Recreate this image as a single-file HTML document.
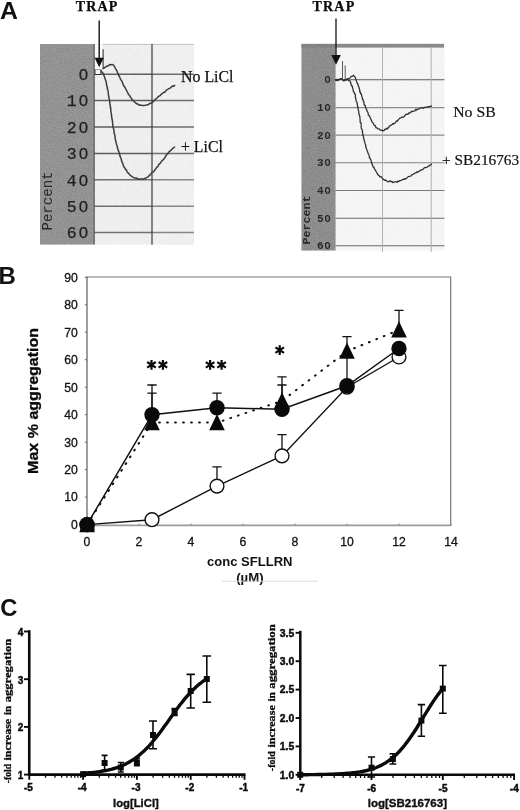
<!DOCTYPE html>
<html><head><meta charset="utf-8"><title>Figure</title>
<style>
html,body{margin:0;padding:0;background:#fff;}
body{width:520px;height:810px;overflow:hidden;font-family:"Liberation Sans",sans-serif;}
svg{display:block;filter:blur(0.4px);}

</style></head><body>
<svg width="520" height="810" viewBox="0 0 520 810">
<defs>
<filter id="nz" x="0" y="0" width="100%" height="100%" color-interpolation-filters="sRGB">
<feTurbulence type="fractalNoise" baseFrequency="0.8" numOctaves="2" seed="7"/>
<feColorMatrix type="matrix" values="0 0 0 0 0  0 0 0 0 0  0 0 0 0 0  0.3 0 0 0 -0.1"/>
<feGaussianBlur stdDeviation="0.4"/>
</filter>
<filter id="nw" x="0" y="0" width="100%" height="100%" color-interpolation-filters="sRGB">
<feTurbulence type="fractalNoise" baseFrequency="0.5" numOctaves="2" seed="11"/>
<feColorMatrix type="matrix" values="0 0 0 0 1  0 0 0 0 1  0 0 0 0 1  1.6 0 0 0 -0.55"/>
<feGaussianBlur stdDeviation="0.8"/>
</filter>
</defs>
<rect width="520" height="810" fill="#fff"/>
<g id="pAl">
<rect x="40" y="44" width="154" height="200.5" fill="#e9e9e9"/>
<rect x="152" y="44" width="42" height="200.5" fill="#ebebeb"/>
<rect x="94" y="44" width="100" height="200.5" fill="#fff" filter="url(#nw)"/>
<rect x="40" y="44" width="54" height="200.5" fill="#9b9b9b"/>
<line x1="94" y1="74.2" x2="152" y2="74.2" stroke="#5e5e5e" stroke-width="1.5"/>
<line x1="152" y1="74.2" x2="194" y2="74.2" stroke="#6e6e6e" stroke-width="1.5"/>
<line x1="94" y1="100.6" x2="152" y2="100.6" stroke="#5e5e5e" stroke-width="1.5"/>
<line x1="152" y1="100.6" x2="194" y2="100.6" stroke="#6e6e6e" stroke-width="1.5"/>
<line x1="94" y1="127.0" x2="152" y2="127.0" stroke="#5e5e5e" stroke-width="1.5"/>
<line x1="152" y1="127.0" x2="194" y2="127.0" stroke="#6e6e6e" stroke-width="1.5"/>
<line x1="94" y1="153.4" x2="152" y2="153.4" stroke="#5e5e5e" stroke-width="1.5"/>
<line x1="152" y1="153.4" x2="194" y2="153.4" stroke="#6e6e6e" stroke-width="1.5"/>
<line x1="94" y1="179.8" x2="152" y2="179.8" stroke="#707070" stroke-width="1.5"/>
<line x1="152" y1="179.8" x2="194" y2="179.8" stroke="#868686" stroke-width="1.5"/>
<line x1="94" y1="206.2" x2="152" y2="206.2" stroke="#707070" stroke-width="1.5"/>
<line x1="152" y1="206.2" x2="194" y2="206.2" stroke="#868686" stroke-width="1.5"/>
<line x1="94" y1="232.6" x2="152" y2="232.6" stroke="#707070" stroke-width="1.5"/>
<line x1="152" y1="232.6" x2="194" y2="232.6" stroke="#868686" stroke-width="1.5"/>
<line x1="103" y1="44.4" x2="194" y2="44.4" stroke="#c4c4c4" stroke-width="1"/>
<line x1="152" y1="44" x2="152" y2="244.8" stroke="#3a3a3a" stroke-width="1.2"/>
<text x="90" y="80.0" text-anchor="end" font-family="Liberation Mono" font-size="16.5" letter-spacing="1.7" fill="#222" stroke="#222" stroke-width="0.25">0</text>
<text x="90" y="106.4" text-anchor="end" font-family="Liberation Mono" font-size="16.5" letter-spacing="1.7" fill="#222" stroke="#222" stroke-width="0.25">10</text>
<text x="90" y="132.8" text-anchor="end" font-family="Liberation Mono" font-size="16.5" letter-spacing="1.7" fill="#222" stroke="#222" stroke-width="0.25">20</text>
<text x="90" y="159.2" text-anchor="end" font-family="Liberation Mono" font-size="16.5" letter-spacing="1.7" fill="#222" stroke="#222" stroke-width="0.25">30</text>
<text x="90" y="185.6" text-anchor="end" font-family="Liberation Mono" font-size="16.5" letter-spacing="1.7" fill="#222" stroke="#222" stroke-width="0.25">40</text>
<text x="90" y="212.0" text-anchor="end" font-family="Liberation Mono" font-size="16.5" letter-spacing="1.7" fill="#222" stroke="#222" stroke-width="0.25">50</text>
<text x="90" y="238.4" text-anchor="end" font-family="Liberation Mono" font-size="16.5" letter-spacing="1.7" fill="#222" stroke="#222" stroke-width="0.25">60</text>
<rect x="82" y="72.3" width="3.1" height="3.4" fill="#9b9b9b"/>
<rect x="82" y="98.7" width="3.1" height="3.4" fill="#9b9b9b"/>
<rect x="82" y="125.1" width="3.1" height="3.4" fill="#9b9b9b"/>
<rect x="82" y="151.5" width="3.1" height="3.4" fill="#9b9b9b"/>
<rect x="82" y="177.9" width="3.1" height="3.4" fill="#9b9b9b"/>
<rect x="82" y="204.3" width="3.1" height="3.4" fill="#9b9b9b"/>
<rect x="82" y="230.7" width="3.1" height="3.4" fill="#9b9b9b"/>
<rect x="40" y="44" width="54" height="200.5" fill="#000" filter="url(#nz)"/>
<text transform="translate(51.5,230.5) rotate(-90)" font-family="Liberation Mono" font-size="14" fill="#2a2a2a" textLength="59" lengthAdjust="spacingAndGlyphs">Percent</text>
<path d="M100.4,69.2 L101.6,68.8 L103.0,68.5 L104.0,68.0 L105.4,67.2 L106.8,66.2 L108.4,65.8 L109.7,64.4 L111.3,64.7 L112.2,64.5 L113.3,64.9 L114.2,66.1 L114.9,67.2 L115.4,68.6 L115.9,69.3 L116.5,70.2 L117.0,71.0 L117.3,72.4 L118.2,73.9 L118.7,75.5 L119.2,76.2 L119.9,77.5 L120.2,78.5 L120.9,79.9 L121.5,80.6 L122.2,81.6 L122.6,83.3 L123.1,84.3 L123.7,85.7 L124.5,86.7 L125.2,87.6 L125.7,88.9 L126.3,90.0 L127.1,91.5 L127.6,92.5 L128.2,93.7 L129.1,95.0 L129.8,95.5 L130.3,96.9 L130.8,97.7 L131.5,98.3 L132.1,99.6 L133.2,100.4 L134.3,101.9 L135.1,102.3 L136.2,103.4 L137.2,104.0 L137.9,104.1 L139.2,105.2 L140.7,105.0 L141.6,105.3 L142.8,105.6 L144.1,105.4 L145.0,105.3 L146.4,105.1 L147.9,104.8 L148.8,104.2 L149.9,103.3 L151.2,103.2 L152.4,102.5 L153.5,101.2 L154.2,100.7 L155.1,99.5 L156.1,98.7 L157.2,97.7 L158.0,96.9 L159.1,96.2 L160.0,95.7 L161.2,94.3 L162.2,93.6 L163.4,92.5 L164.7,92.3 L165.7,91.1 L166.6,89.9 L167.7,89.3 L168.9,88.5 L170.0,88.3 L171.5,86.8 L172.8,86.0 L173.9,86.2 L174.6,85.4" fill="none" stroke="#3c3c3c" stroke-width="1.5" stroke-linecap="round" stroke-linejoin="round"/>
<path d="M95.0,70.4 L95.9,70.7 L97.4,70.3 L99.2,70.0 L100.4,70.7 L101.3,71.4 L102.4,72.5 L103.3,73.5 L103.9,75.2 L104.4,76.8 L104.8,77.7 L105.1,78.7 L105.3,79.6 L106.0,81.4 L106.3,82.7 L106.4,83.7 L106.6,85.1 L106.8,86.2 L107.3,86.6 L107.3,88.1 L107.4,89.2 L108.0,90.2 L108.1,91.5 L108.3,93.4 L108.4,94.0 L108.6,95.8 L108.8,96.8 L109.2,98.8 L109.3,99.5 L109.6,100.4 L109.7,101.7 L109.9,103.5 L109.9,104.5 L110.3,105.4 L110.3,107.4 L110.8,108.0 L110.8,109.9 L110.8,111.0 L110.9,112.1 L111.3,113.6 L111.5,114.4 L111.5,116.3 L111.8,117.2 L111.9,118.8 L112.1,119.2 L112.4,120.8 L112.5,122.1 L112.7,123.5 L112.7,125.0 L112.9,126.4 L113.1,127.7 L113.6,128.7 L113.8,129.7 L114.0,131.0 L114.0,132.7 L114.3,133.4 L114.7,134.6 L114.8,135.6 L115.1,136.8 L115.1,138.6 L115.4,139.8 L116.0,140.8 L115.9,141.6 L116.2,143.0 L116.7,144.7 L116.9,145.2 L117.2,146.4 L117.4,147.8 L117.9,148.6 L118.1,150.2 L118.6,151.1 L119.0,152.0 L119.3,153.8 L119.8,154.9 L119.9,155.9 L120.5,157.3 L121.0,158.5 L121.5,159.9 L121.6,161.1 L122.3,162.6 L122.7,163.4 L123.2,165.1 L123.7,166.2 L124.2,167.5 L125.2,168.4 L125.7,169.6 L126.6,170.4 L127.2,171.8 L127.8,172.9 L128.7,173.3 L129.5,174.4 L130.5,175.5 L131.5,176.2 L132.8,177.1 L133.9,177.7 L135.3,178.0 L136.4,177.9 L137.6,178.9 L138.7,179.0 L139.6,179.0 L141.0,178.9 L141.9,178.9 L143.2,178.9 L144.1,178.7 L145.4,178.2 L146.5,177.7 L147.6,177.1 L148.7,176.3 L149.3,175.2 L150.4,174.7 L151.3,173.3 L152.3,172.3 L153.7,171.9 L154.2,170.9 L155.0,169.8 L155.7,169.0 L156.5,167.7 L157.4,166.7 L158.1,166.3 L158.7,164.6 L159.8,163.6 L160.4,163.2 L161.2,161.8 L161.8,160.8 L162.7,160.2 L163.7,159.2 L164.4,158.3 L165.1,157.3 L165.9,155.7 L166.4,154.9 L167.2,154.2 L167.8,153.6 L168.9,152.0 L169.9,151.1 L171.2,150.2 L172.2,148.9 L173.1,148.1 L173.9,147.6 L174.6,147.0" fill="none" stroke="#3c3c3c" stroke-width="1.5" stroke-linecap="round" stroke-linejoin="round"/>
<rect x="95" y="69.3" width="5.8" height="5.2" fill="#f6f6f6" stroke="#333" stroke-width="1"/>
<rect x="94.8" y="44.5" width="7.8" height="25" fill="#fbfbfb"/>
<line x1="94.2" y1="44" x2="94.2" y2="244.5" stroke="#505050" stroke-width="1.1"/>
<line x1="103.1" y1="49.2" x2="103.1" y2="68.5" stroke="#333" stroke-width="1.1"/>
<line x1="99.2" y1="20.5" x2="99.2" y2="59" stroke="#111" stroke-width="1.4"/>
<path d="M94.6,57.8 L103.8,57.8 L99.2,67.3 Z" fill="#111"/>
<text x="75.7" y="10.8" font-family="Liberation Serif" font-weight="bold" font-size="14" textLength="41.6" lengthAdjust="spacing" fill="#0a0a0a" stroke="#0a0a0a" stroke-width="0.25">TRAP</text>
<text x="181" y="81.7" font-family="Liberation Serif" font-size="16" textLength="52.5" lengthAdjust="spacingAndGlyphs" fill="#111" stroke="#111" stroke-width="0.25">No LiCl</text>
<text x="181" y="152.4" font-family="Liberation Serif" font-size="16" textLength="41.8" lengthAdjust="spacingAndGlyphs" fill="#111" stroke="#111" stroke-width="0.25">+ LiCl</text>
</g>
<g id="pAr">
<rect x="301.5" y="44" width="143" height="206.5" fill="#f1f1f1"/>
<rect x="335.5" y="47" width="109" height="203.5" fill="#fff" filter="url(#nw)"/>
<rect x="301.5" y="44" width="34" height="206.5" fill="#959595"/>
<rect x="301.5" y="43.8" width="142.5" height="3.8" fill="#8a8a8a"/>
<line x1="335.5" y1="79.8" x2="444.5" y2="79.8" stroke="#5a5a5a" stroke-width="1.1"/>
<line x1="335.5" y1="107.6" x2="444.5" y2="107.6" stroke="#8a8a8a" stroke-width="1.1"/>
<line x1="335.5" y1="135.1" x2="444.5" y2="135.1" stroke="#8a8a8a" stroke-width="1.1"/>
<line x1="335.5" y1="162.7" x2="444.5" y2="162.7" stroke="#828282" stroke-width="1.1"/>
<line x1="335.5" y1="190.5" x2="444.5" y2="190.5" stroke="#7a7a7a" stroke-width="1.1"/>
<line x1="335.5" y1="218.3" x2="444.5" y2="218.3" stroke="#6c6c6c" stroke-width="1.1"/>
<line x1="335.5" y1="245.8" x2="444.5" y2="245.8" stroke="#6a6a6a" stroke-width="1.1"/>
<line x1="382.5" y1="47.5" x2="382.5" y2="252" stroke="#b0b0b0" stroke-width="1"/>
<line x1="431.2" y1="47.5" x2="431.2" y2="252" stroke="#b0b0b0" stroke-width="1"/>
<text x="331.4" y="83.3" text-anchor="end" font-family="Liberation Mono" font-weight="bold" font-size="11" letter-spacing="0.6" fill="#2a2a2a">0</text>
<text x="331.4" y="111.1" text-anchor="end" font-family="Liberation Mono" font-weight="bold" font-size="11" letter-spacing="0.6" fill="#2a2a2a">10</text>
<text x="331.4" y="138.6" text-anchor="end" font-family="Liberation Mono" font-weight="bold" font-size="11" letter-spacing="0.6" fill="#2a2a2a">20</text>
<text x="331.4" y="166.2" text-anchor="end" font-family="Liberation Mono" font-weight="bold" font-size="11" letter-spacing="0.6" fill="#2a2a2a">30</text>
<text x="331.4" y="194.0" text-anchor="end" font-family="Liberation Mono" font-weight="bold" font-size="11" letter-spacing="0.6" fill="#2a2a2a">40</text>
<text x="331.4" y="221.8" text-anchor="end" font-family="Liberation Mono" font-weight="bold" font-size="11" letter-spacing="0.6" fill="#2a2a2a">50</text>
<text x="331.4" y="249.3" text-anchor="end" font-family="Liberation Mono" font-weight="bold" font-size="11" letter-spacing="0.6" fill="#2a2a2a">60</text>
<rect x="326.7" y="78.4" width="1.7" height="2" fill="#959595"/>
<rect x="326.7" y="106.2" width="1.7" height="2" fill="#959595"/>
<rect x="326.7" y="133.7" width="1.7" height="2" fill="#959595"/>
<rect x="326.7" y="161.3" width="1.7" height="2" fill="#959595"/>
<rect x="326.7" y="189.1" width="1.7" height="2" fill="#959595"/>
<rect x="326.7" y="216.9" width="1.7" height="2" fill="#959595"/>
<rect x="326.7" y="244.4" width="1.7" height="2" fill="#959595"/>
<rect x="301.5" y="44" width="34" height="206.5" fill="#000" filter="url(#nz)"/>
<text transform="translate(310.4,244.5) rotate(-90)" font-family="Liberation Mono" font-weight="bold" font-size="10.6" fill="#2a2a2a" textLength="49" lengthAdjust="spacingAndGlyphs">Percent</text>
<path d="M334.8,79.6 L335.7,79.8 L337.0,79.3 L337.6,80.5 L338.8,79.3 L340.4,79.2 L341.3,79.0 L342.1,78.8 L343.1,80.5 L344.0,80.7 L345.3,79.6 L346.6,80.2 L347.4,78.9 L348.7,78.8 L349.4,78.4 L350.2,77.6 L351.2,76.4 L352.5,76.2 L353.6,75.1 L353.9,76.0 L355.3,77.4 L355.5,77.9 L355.7,78.8 L356.0,79.9 L356.5,81.4 L357.1,82.8 L357.8,84.4 L357.9,83.9 L358.3,85.9 L358.6,86.2 L358.8,86.6 L359.2,88.1 L359.1,88.3 L359.9,90.8 L359.6,91.6 L360.2,91.7 L360.5,93.7 L361.3,93.7 L361.5,94.8 L361.9,96.3 L362.4,98.4 L362.5,99.4 L362.7,99.0 L363.2,99.9 L363.3,101.4 L364.0,102.0 L363.9,104.1 L364.5,105.3 L365.3,105.4 L365.3,106.6 L365.8,107.7 L366.1,108.8 L366.8,109.6 L366.8,110.9 L367.0,111.2 L367.9,112.4 L368.0,112.6 L368.3,114.3 L368.3,115.2 L369.3,115.5 L369.9,117.2 L370.5,118.1 L371.0,119.8 L371.1,119.8 L372.1,122.1 L372.3,122.3 L373.1,123.0 L373.5,123.8 L374.0,125.0 L374.4,125.4 L375.2,125.5 L376.0,127.8 L376.6,127.8 L377.7,128.3 L378.0,129.0 L379.1,128.9 L379.9,129.8 L381.3,130.3 L382.3,130.1 L382.9,130.9 L384.3,130.4 L384.8,129.4 L386.0,128.8 L386.9,129.4 L387.0,128.1 L388.2,128.1 L389.0,126.9 L389.7,125.9 L390.8,125.4 L391.2,125.1 L392.0,124.5 L393.1,123.5 L393.2,124.1 L394.8,123.5 L395.3,122.7 L396.6,120.9 L397.4,121.2 L398.2,120.0 L398.9,119.1 L399.8,118.1 L400.9,117.8 L401.9,116.9 L402.8,117.3 L403.7,117.0 L404.6,116.0 L404.8,115.7 L405.8,114.4 L407.1,114.2 L407.9,114.3 L408.9,112.8 L409.6,113.1 L410.7,112.5 L411.5,111.2 L412.5,111.7 L413.2,111.2 L414.8,110.9 L415.7,109.3 L416.6,110.2 L417.2,109.0 L418.4,109.1 L419.5,108.8 L420.8,107.8 L421.2,107.8 L422.2,107.5 L423.7,108.4 L423.9,107.7 L424.9,107.2 L426.2,107.4 L427.7,106.7 L428.5,106.5 L429.5,106.7 L430.8,106.3 L431.1,105.9 L432.0,106.3" fill="none" stroke="#2d2d2d" stroke-width="1.25" stroke-linejoin="round"/>
<path d="M335.1,79.9 L336.0,80.3 L337.1,80.6 L337.6,79.9 L339.3,79.9 L340.3,78.6 L341.0,78.6 L342.0,79.4 L342.6,79.5 L343.8,80.9 L345.4,79.6 L346.6,79.2 L347.6,79.0 L348.4,80.3 L349.8,80.8 L350.7,82.4 L350.5,83.3 L351.0,83.7 L351.2,85.1 L351.9,86.1 L352.5,86.2 L352.4,87.2 L352.7,88.2 L353.2,90.2 L353.3,91.5 L353.8,91.8 L354.5,92.8 L354.3,93.6 L354.9,93.8 L355.4,94.6 L355.4,96.6 L355.2,97.4 L355.7,98.0 L355.7,98.2 L356.1,100.6 L356.4,101.5 L357.2,102.9 L357.1,103.4 L357.5,105.4 L357.4,106.2 L358.1,107.2 L357.7,108.2 L357.9,108.2 L358.4,110.0 L358.4,111.0 L358.7,111.1 L358.8,111.9 L358.8,113.0 L359.4,115.3 L359.2,115.0 L360.0,116.8 L359.8,117.5 L360.1,119.5 L360.2,120.0 L360.1,121.9 L360.2,122.4 L361.0,122.9 L361.2,125.2 L361.3,126.1 L361.1,126.6 L361.3,128.3 L361.6,128.7 L362.3,130.3 L362.5,130.6 L362.3,132.0 L362.5,132.2 L362.7,133.2 L362.9,135.6 L363.6,136.1 L363.5,136.8 L363.4,137.7 L364.2,139.6 L364.1,140.5 L364.7,141.3 L364.8,142.3 L364.9,143.2 L365.1,143.7 L365.7,145.0 L365.6,146.3 L366.1,146.6 L365.9,147.5 L366.4,148.6 L366.8,149.7 L367.3,150.7 L367.4,151.4 L368.0,152.6 L368.0,153.6 L368.8,154.4 L369.2,155.8 L369.2,156.2 L369.3,157.6 L370.2,158.1 L370.4,159.5 L370.8,159.7 L371.2,161.3 L371.5,162.0 L371.9,163.6 L372.3,164.4 L372.2,164.5 L372.9,166.2 L373.2,167.1 L373.9,167.0 L374.2,168.1 L374.3,168.7 L374.9,169.5 L375.5,170.4 L376.4,172.0 L377.2,173.3 L377.7,174.7 L378.3,174.9 L379.3,175.7 L379.9,177.0 L380.8,176.5 L381.8,177.3 L382.4,178.2 L383.1,179.7 L383.9,179.4 L385.1,180.5 L385.9,180.2 L387.1,181.2 L388.3,181.9 L389.1,181.1 L390.3,180.8 L390.7,181.8 L392.0,181.4 L392.9,182.7 L393.7,182.2 L394.7,181.9 L396.6,181.8 L397.3,182.4 L397.8,181.2 L399.0,181.3 L399.5,180.7 L400.8,180.6 L401.3,180.2 L402.2,180.0 L403.4,179.1 L404.7,179.4 L405.1,178.5 L406.3,178.6 L407.7,177.1 L408.2,176.6 L409.6,176.3 L410.2,176.1 L411.1,175.8 L412.1,174.6 L413.0,174.3 L413.7,173.9 L414.5,173.6 L415.5,172.8 L416.6,172.7 L417.0,171.6 L418.2,172.1 L419.4,171.1 L419.6,170.9 L420.9,170.1 L422.1,169.6 L423.0,169.5 L424.0,168.1 L425.5,167.3 L426.1,167.7 L427.0,167.2 L428.4,166.0 L429.0,166.1 L430.4,164.7 L430.8,164.9 L431.5,164.2 L432.0,164.2" fill="none" stroke="#2d2d2d" stroke-width="1.25" stroke-linejoin="round"/>
<path d="M342.5,79.5 L342.5,61 M345.2,79.5 L345.2,65.5" stroke="#4a4a4a" stroke-width="0.9" fill="none"/>
<line x1="336" y1="18.5" x2="336" y2="56" stroke="#111" stroke-width="1.3"/>
<path d="M331.3,55 L340.9,55 L336,64.8 Z" fill="#111"/>
<text x="312.6" y="10.9" font-family="Liberation Serif" font-weight="bold" font-size="14" textLength="41.6" lengthAdjust="spacing" fill="#0a0a0a" stroke="#0a0a0a" stroke-width="0.25">TRAP</text>
<text x="453.2" y="117.2" font-family="Liberation Serif" font-size="15.5" textLength="42.5" lengthAdjust="spacingAndGlyphs" fill="#111" stroke="#111" stroke-width="0.2">No SB</text>
<text x="442" y="164.5" font-family="Liberation Serif" font-size="15" textLength="77.2" lengthAdjust="spacingAndGlyphs" fill="#111" stroke="#111" stroke-width="0.2">+ SB216763</text>
</g>
<g id="pB">
<path d="M87,277 L450.7,277 L450.7,525" fill="none" stroke="#777" stroke-width="1.2"/>
<line x1="87" y1="525.3" x2="451.2" y2="525.3" stroke="#9c9c9c" stroke-width="1.7"/>
<line x1="87" y1="276.5" x2="87" y2="525.5" stroke="#5c5c5c" stroke-width="1.2"/>
<line x1="84.8" y1="524.6" x2="87" y2="524.6" stroke="#6a6a6a" stroke-width="1"/>
<text x="77.8" y="528.9" text-anchor="end" font-family="Liberation Sans" font-size="12.2" fill="#111" stroke="#111" stroke-width="0.3">0</text>
<line x1="84.8" y1="497.1" x2="87" y2="497.1" stroke="#6a6a6a" stroke-width="1"/>
<text x="77.8" y="501.4" text-anchor="end" font-family="Liberation Sans" font-size="12.2" fill="#111" stroke="#111" stroke-width="0.3">10</text>
<line x1="84.8" y1="469.6" x2="87" y2="469.6" stroke="#6a6a6a" stroke-width="1"/>
<text x="77.8" y="473.9" text-anchor="end" font-family="Liberation Sans" font-size="12.2" fill="#111" stroke="#111" stroke-width="0.3">20</text>
<line x1="84.8" y1="442.2" x2="87" y2="442.2" stroke="#6a6a6a" stroke-width="1"/>
<text x="77.8" y="446.5" text-anchor="end" font-family="Liberation Sans" font-size="12.2" fill="#111" stroke="#111" stroke-width="0.3">30</text>
<line x1="84.8" y1="414.7" x2="87" y2="414.7" stroke="#6a6a6a" stroke-width="1"/>
<text x="77.8" y="419.0" text-anchor="end" font-family="Liberation Sans" font-size="12.2" fill="#111" stroke="#111" stroke-width="0.3">40</text>
<line x1="84.8" y1="387.2" x2="87" y2="387.2" stroke="#6a6a6a" stroke-width="1"/>
<text x="77.8" y="391.5" text-anchor="end" font-family="Liberation Sans" font-size="12.2" fill="#111" stroke="#111" stroke-width="0.3">50</text>
<line x1="84.8" y1="359.7" x2="87" y2="359.7" stroke="#6a6a6a" stroke-width="1"/>
<text x="77.8" y="364.0" text-anchor="end" font-family="Liberation Sans" font-size="12.2" fill="#111" stroke="#111" stroke-width="0.3">60</text>
<line x1="84.8" y1="332.2" x2="87" y2="332.2" stroke="#6a6a6a" stroke-width="1"/>
<text x="77.8" y="336.5" text-anchor="end" font-family="Liberation Sans" font-size="12.2" fill="#111" stroke="#111" stroke-width="0.3">70</text>
<line x1="84.8" y1="304.8" x2="87" y2="304.8" stroke="#6a6a6a" stroke-width="1"/>
<text x="77.8" y="309.1" text-anchor="end" font-family="Liberation Sans" font-size="12.2" fill="#111" stroke="#111" stroke-width="0.3">80</text>
<line x1="84.8" y1="277.3" x2="87" y2="277.3" stroke="#6a6a6a" stroke-width="1"/>
<text x="77.8" y="281.6" text-anchor="end" font-family="Liberation Sans" font-size="12.2" fill="#111" stroke="#111" stroke-width="0.3">90</text>
<line x1="87.0" y1="523.5" x2="87.0" y2="526" stroke="#8a8a8a" stroke-width="1"/>
<text x="87.0" y="546.3" text-anchor="middle" font-family="Liberation Sans" font-size="12.2" fill="#111" stroke="#111" stroke-width="0.3">0</text>
<line x1="139.0" y1="523.5" x2="139.0" y2="526" stroke="#8a8a8a" stroke-width="1"/>
<text x="139.0" y="546.3" text-anchor="middle" font-family="Liberation Sans" font-size="12.2" fill="#111" stroke="#111" stroke-width="0.3">2</text>
<line x1="191.0" y1="523.5" x2="191.0" y2="526" stroke="#8a8a8a" stroke-width="1"/>
<text x="191.0" y="546.3" text-anchor="middle" font-family="Liberation Sans" font-size="12.2" fill="#111" stroke="#111" stroke-width="0.3">4</text>
<line x1="243.0" y1="523.5" x2="243.0" y2="526" stroke="#8a8a8a" stroke-width="1"/>
<text x="243.0" y="546.3" text-anchor="middle" font-family="Liberation Sans" font-size="12.2" fill="#111" stroke="#111" stroke-width="0.3">6</text>
<line x1="295.0" y1="523.5" x2="295.0" y2="526" stroke="#8a8a8a" stroke-width="1"/>
<text x="295.0" y="546.3" text-anchor="middle" font-family="Liberation Sans" font-size="12.2" fill="#111" stroke="#111" stroke-width="0.3">8</text>
<line x1="347.0" y1="523.5" x2="347.0" y2="526" stroke="#8a8a8a" stroke-width="1"/>
<text x="347.0" y="546.3" text-anchor="middle" font-family="Liberation Sans" font-size="12.2" fill="#111" stroke="#111" stroke-width="0.3">10</text>
<line x1="399.0" y1="523.5" x2="399.0" y2="526" stroke="#8a8a8a" stroke-width="1"/>
<text x="399.0" y="546.3" text-anchor="middle" font-family="Liberation Sans" font-size="12.2" fill="#111" stroke="#111" stroke-width="0.3">12</text>
<line x1="451.0" y1="523.5" x2="451.0" y2="526" stroke="#8a8a8a" stroke-width="1"/>
<text x="451.0" y="546.3" text-anchor="middle" font-family="Liberation Sans" font-size="12.2" fill="#111" stroke="#111" stroke-width="0.3">14</text>
<text transform="translate(37.7,473.9) rotate(-90)" font-family="Liberation Sans" font-weight="bold" font-size="14.4" textLength="146" lengthAdjust="spacingAndGlyphs" fill="#0a0a0a" stroke="#0a0a0a" stroke-width="0.3">Max % aggregation</text>
<text x="207" y="565.5" font-family="Liberation Sans" font-weight="bold" font-size="13" textLength="85.5" lengthAdjust="spacingAndGlyphs" fill="#111">conc SFLLRN</text>
<text x="236.2" y="582.3" font-family="Liberation Sans" font-weight="bold" font-size="13" textLength="27.5" lengthAdjust="spacingAndGlyphs" fill="#111">(µM)</text>
<line x1="222" y1="581.2" x2="318" y2="581.2" stroke="#dcdcdc" stroke-width="1"/>
<path d="M87.0,524.6 L152.0,519.7 L217.0,486.1 L282.0,455.9 L347.0,387.2 L399.0,357.0" fill="none" stroke="#111" stroke-width="1.4"/>
<path d="M87.0,524.6 L152.0,422.6 L217.0,422.6 L282.0,400.9 L347.0,351.2 L399.0,330.0" fill="none" stroke="#111" stroke-width="2" stroke-linecap="round" stroke-dasharray="0.8,7.2"/>
<path d="M87.0,524.6 L152.0,414.7 L217.0,407.8 L282.0,409.2 L347.0,385.8 L399.0,348.5" fill="none" stroke="#111" stroke-width="1.5"/>
<path d="M217.0,486.1 L217.0,466.9 M212.4,466.9 L221.6,466.9" stroke="#111" stroke-width="1.3" fill="none"/>
<path d="M282.0,455.9 L282.0,434.7 M277.4,434.7 L286.6,434.7" stroke="#111" stroke-width="1.3" fill="none"/>
<path d="M152.0,422.6 L152.0,393.2 M147.4,393.2 L156.6,393.2" stroke="#111" stroke-width="1.3" fill="none"/>
<path d="M282.0,400.9 L282.0,376.8 M277.4,376.8 L286.6,376.8" stroke="#111" stroke-width="1.3" fill="none"/>
<path d="M347.0,351.2 L347.0,336.6 M342.4,336.6 L351.6,336.6" stroke="#111" stroke-width="1.3" fill="none"/>
<path d="M399.0,330.0 L399.0,310.3 M394.4,310.3 L403.6,310.3" stroke="#111" stroke-width="1.3" fill="none"/>
<path d="M152.0,414.7 L152.0,385.0 M147.4,385.0 L156.6,385.0" stroke="#111" stroke-width="1.3" fill="none"/>
<path d="M217.0,407.8 L217.0,393.2 M212.4,393.2 L221.6,393.2" stroke="#111" stroke-width="1.3" fill="none"/>
<path d="M282.0,409.2 L282.0,385.0 M277.4,385.0 L286.6,385.0" stroke="#111" stroke-width="1.3" fill="none"/>
<line x1="347.0" y1="351.5" x2="347.0" y2="387.2" stroke="#111" stroke-width="1.3"/>
<circle cx="87.0" cy="524.6" r="6.9" fill="#fff" stroke="#111" stroke-width="1.4"/>
<circle cx="152.0" cy="519.7" r="6.9" fill="#fff" stroke="#111" stroke-width="1.4"/>
<circle cx="217.0" cy="486.1" r="6.9" fill="#fff" stroke="#111" stroke-width="1.4"/>
<circle cx="282.0" cy="455.9" r="6.9" fill="#fff" stroke="#111" stroke-width="1.4"/>
<circle cx="347.0" cy="387.2" r="6.9" fill="#fff" stroke="#111" stroke-width="1.4"/>
<circle cx="399.0" cy="357.0" r="6.9" fill="#fff" stroke="#111" stroke-width="1.4"/>
<path d="M87.0,515.9 L79.2,532.2 L94.8,532.2 Z" fill="#0a0a0a"/>
<path d="M152.0,413.9 L144.2,430.2 L159.8,430.2 Z" fill="#0a0a0a"/>
<path d="M217.0,413.9 L209.2,430.2 L224.8,430.2 Z" fill="#0a0a0a"/>
<path d="M282.0,392.2 L274.2,408.5 L289.8,408.5 Z" fill="#0a0a0a"/>
<path d="M347.0,342.5 L339.2,358.8 L354.8,358.8 Z" fill="#0a0a0a"/>
<path d="M399.0,321.3 L391.2,337.6 L406.8,337.6 Z" fill="#0a0a0a"/>
<circle cx="87.0" cy="524.6" r="7.7" fill="#0a0a0a"/>
<circle cx="152.0" cy="414.7" r="7.7" fill="#0a0a0a"/>
<circle cx="217.0" cy="407.8" r="7.7" fill="#0a0a0a"/>
<circle cx="282.0" cy="409.2" r="7.7" fill="#0a0a0a"/>
<circle cx="347.0" cy="385.8" r="7.7" fill="#0a0a0a"/>
<circle cx="399.0" cy="348.5" r="7.7" fill="#0a0a0a"/>
<rect x="80.3" y="524" width="14.2" height="8" rx="1" fill="#0a0a0a"/>
<path d="M151.5,359.9 V369.7 M147.2,362.0 L155.8,367.6 M147.2,367.6 L155.8,362.0" stroke="#0a0a0a" stroke-width="2.2" fill="none"/>
<path d="M162.9,359.9 V369.7 M158.6,362.0 L167.2,367.6 M158.6,367.6 L167.2,362.0" stroke="#0a0a0a" stroke-width="2.2" fill="none"/>
<path d="M210.1,360.0 V369.8 M205.8,362.1 L214.4,367.7 M205.8,367.7 L214.4,362.1" stroke="#0a0a0a" stroke-width="2.2" fill="none"/>
<path d="M221.6,360.0 V369.8 M217.3,362.1 L225.9,367.7 M217.3,367.7 L225.9,362.1" stroke="#0a0a0a" stroke-width="2.2" fill="none"/>
<path d="M279.7,345.2 V355.0 M275.4,347.3 L284.0,352.9 M275.4,352.9 L284.0,347.3" stroke="#0a0a0a" stroke-width="2.2" fill="none"/>
</g>
<g id="pC">
<line x1="29.25" y1="630.2" x2="29.25" y2="775.9" stroke="#0a0a0a" stroke-width="2.6"/>
<line x1="28.4" y1="774.6" x2="245.5" y2="774.6" stroke="#0a0a0a" stroke-width="2.6"/>
<line x1="24" y1="774.6" x2="29.3" y2="774.6" stroke="#0a0a0a" stroke-width="1.9"/>
<text x="23.3" y="778.9" text-anchor="end" font-family="Liberation Sans" font-weight="bold" font-size="10" fill="#0a0a0a" stroke="#0a0a0a" stroke-width="0.45">1</text>
<line x1="24" y1="726.9" x2="29.3" y2="726.9" stroke="#0a0a0a" stroke-width="1.9"/>
<text x="23.3" y="731.2" text-anchor="end" font-family="Liberation Sans" font-weight="bold" font-size="10" fill="#0a0a0a" stroke="#0a0a0a" stroke-width="0.45">2</text>
<line x1="24" y1="679.2" x2="29.3" y2="679.2" stroke="#0a0a0a" stroke-width="1.9"/>
<text x="23.3" y="683.5" text-anchor="end" font-family="Liberation Sans" font-weight="bold" font-size="10" fill="#0a0a0a" stroke="#0a0a0a" stroke-width="0.45">3</text>
<line x1="24" y1="631.5" x2="29.3" y2="631.5" stroke="#0a0a0a" stroke-width="1.9"/>
<text x="23.3" y="635.8" text-anchor="end" font-family="Liberation Sans" font-weight="bold" font-size="10" fill="#0a0a0a" stroke="#0a0a0a" stroke-width="0.45">4</text>
<line x1="29.3" y1="774.6" x2="29.3" y2="779.8" stroke="#0a0a0a" stroke-width="1.9"/>
<text x="28.4" y="791" text-anchor="middle" font-family="Liberation Sans" font-weight="bold" font-size="10" fill="#0a0a0a" stroke="#0a0a0a" stroke-width="0.45">-5</text>
<line x1="45.5" y1="774.6" x2="45.5" y2="777.8" stroke="#0a0a0a" stroke-width="1.3"/>
<line x1="55.0" y1="774.6" x2="55.0" y2="777.8" stroke="#0a0a0a" stroke-width="1.3"/>
<line x1="61.7" y1="774.6" x2="61.7" y2="777.8" stroke="#0a0a0a" stroke-width="1.3"/>
<line x1="66.9" y1="774.6" x2="66.9" y2="777.8" stroke="#0a0a0a" stroke-width="1.3"/>
<line x1="71.2" y1="774.6" x2="71.2" y2="777.8" stroke="#0a0a0a" stroke-width="1.3"/>
<line x1="74.8" y1="774.6" x2="74.8" y2="777.8" stroke="#0a0a0a" stroke-width="1.3"/>
<line x1="77.9" y1="774.6" x2="77.9" y2="777.8" stroke="#0a0a0a" stroke-width="1.3"/>
<line x1="80.6" y1="774.6" x2="80.6" y2="777.8" stroke="#0a0a0a" stroke-width="1.3"/>
<line x1="83.1" y1="774.6" x2="83.1" y2="779.8" stroke="#0a0a0a" stroke-width="1.9"/>
<text x="82.2" y="791" text-anchor="middle" font-family="Liberation Sans" font-weight="bold" font-size="10" fill="#0a0a0a" stroke="#0a0a0a" stroke-width="0.45">-4</text>
<line x1="99.3" y1="774.6" x2="99.3" y2="777.8" stroke="#0a0a0a" stroke-width="1.3"/>
<line x1="108.8" y1="774.6" x2="108.8" y2="777.8" stroke="#0a0a0a" stroke-width="1.3"/>
<line x1="115.5" y1="774.6" x2="115.5" y2="777.8" stroke="#0a0a0a" stroke-width="1.3"/>
<line x1="120.7" y1="774.6" x2="120.7" y2="777.8" stroke="#0a0a0a" stroke-width="1.3"/>
<line x1="125.0" y1="774.6" x2="125.0" y2="777.8" stroke="#0a0a0a" stroke-width="1.3"/>
<line x1="128.6" y1="774.6" x2="128.6" y2="777.8" stroke="#0a0a0a" stroke-width="1.3"/>
<line x1="131.7" y1="774.6" x2="131.7" y2="777.8" stroke="#0a0a0a" stroke-width="1.3"/>
<line x1="134.4" y1="774.6" x2="134.4" y2="777.8" stroke="#0a0a0a" stroke-width="1.3"/>
<line x1="136.9" y1="774.6" x2="136.9" y2="779.8" stroke="#0a0a0a" stroke-width="1.9"/>
<text x="136.0" y="791" text-anchor="middle" font-family="Liberation Sans" font-weight="bold" font-size="10" fill="#0a0a0a" stroke="#0a0a0a" stroke-width="0.45">-3</text>
<line x1="153.1" y1="774.6" x2="153.1" y2="777.8" stroke="#0a0a0a" stroke-width="1.3"/>
<line x1="162.6" y1="774.6" x2="162.6" y2="777.8" stroke="#0a0a0a" stroke-width="1.3"/>
<line x1="169.3" y1="774.6" x2="169.3" y2="777.8" stroke="#0a0a0a" stroke-width="1.3"/>
<line x1="174.5" y1="774.6" x2="174.5" y2="777.8" stroke="#0a0a0a" stroke-width="1.3"/>
<line x1="178.8" y1="774.6" x2="178.8" y2="777.8" stroke="#0a0a0a" stroke-width="1.3"/>
<line x1="182.4" y1="774.6" x2="182.4" y2="777.8" stroke="#0a0a0a" stroke-width="1.3"/>
<line x1="185.5" y1="774.6" x2="185.5" y2="777.8" stroke="#0a0a0a" stroke-width="1.3"/>
<line x1="188.2" y1="774.6" x2="188.2" y2="777.8" stroke="#0a0a0a" stroke-width="1.3"/>
<line x1="190.7" y1="774.6" x2="190.7" y2="779.8" stroke="#0a0a0a" stroke-width="1.9"/>
<text x="189.8" y="791" text-anchor="middle" font-family="Liberation Sans" font-weight="bold" font-size="10" fill="#0a0a0a" stroke="#0a0a0a" stroke-width="0.45">-2</text>
<line x1="206.9" y1="774.6" x2="206.9" y2="777.8" stroke="#0a0a0a" stroke-width="1.3"/>
<line x1="216.4" y1="774.6" x2="216.4" y2="777.8" stroke="#0a0a0a" stroke-width="1.3"/>
<line x1="223.1" y1="774.6" x2="223.1" y2="777.8" stroke="#0a0a0a" stroke-width="1.3"/>
<line x1="228.3" y1="774.6" x2="228.3" y2="777.8" stroke="#0a0a0a" stroke-width="1.3"/>
<line x1="232.6" y1="774.6" x2="232.6" y2="777.8" stroke="#0a0a0a" stroke-width="1.3"/>
<line x1="236.2" y1="774.6" x2="236.2" y2="777.8" stroke="#0a0a0a" stroke-width="1.3"/>
<line x1="239.3" y1="774.6" x2="239.3" y2="777.8" stroke="#0a0a0a" stroke-width="1.3"/>
<line x1="242.0" y1="774.6" x2="242.0" y2="777.8" stroke="#0a0a0a" stroke-width="1.3"/>
<line x1="244.5" y1="774.6" x2="244.5" y2="779.8" stroke="#0a0a0a" stroke-width="1.9"/>
<text x="243.6" y="791" text-anchor="middle" font-family="Liberation Sans" font-weight="bold" font-size="10" fill="#0a0a0a" stroke="#0a0a0a" stroke-width="0.45">-1</text>
<text x="-1" y="791.3" font-size="1" fill="none"> </text>
<text x="113" y="807" font-family="Liberation Sans" font-weight="bold" stroke="#0a0a0a" stroke-width="0.35" font-size="11.5" textLength="45.8" lengthAdjust="spacingAndGlyphs" fill="#111">log[LiCl]</text>
<text transform="translate(11.2,783.2) rotate(-90)" font-family="Liberation Serif" font-weight="bold" stroke="#0a0a0a" stroke-width="0.3" font-size="11.4" textLength="19.2" lengthAdjust="spacingAndGlyphs" fill="#0a0a0a">-fold</text>
<text transform="translate(11.2,760.6) rotate(-90)" font-family="Liberation Serif" font-weight="bold" stroke="#0a0a0a" stroke-width="0.3" font-size="11.4" textLength="41.8" lengthAdjust="spacingAndGlyphs" fill="#0a0a0a">increase</text>
<text transform="translate(11.2,715.1) rotate(-90)" font-family="Liberation Serif" font-weight="bold" stroke="#0a0a0a" stroke-width="0.3" font-size="11.4" textLength="9.2" lengthAdjust="spacingAndGlyphs" fill="#0a0a0a">in</text>
<text transform="translate(11.2,702.3) rotate(-90)" font-family="Liberation Serif" font-weight="bold" stroke="#0a0a0a" stroke-width="0.3" font-size="11.4" textLength="63.5" lengthAdjust="spacingAndGlyphs" fill="#0a0a0a">aggregation</text>
<path d="M83.1,773.3 L85.2,773.2 L87.2,773.0 L89.3,772.8 L91.3,772.6 L93.4,772.4 L95.5,772.2 L97.5,771.9 L99.6,771.6 L101.7,771.3 L103.7,770.9 L105.8,770.5 L107.8,770.1 L109.9,769.6 L112.0,769.1 L114.0,768.5 L116.1,767.9 L118.2,767.2 L120.2,766.4 L122.3,765.5 L124.3,764.6 L126.4,763.6 L128.5,762.5 L130.5,761.3 L132.6,760.1 L134.7,758.7 L136.7,757.2 L138.8,755.6 L140.8,753.8 L142.9,752.0 L145.0,750.0 L147.0,748.0 L149.1,745.8 L151.2,743.5 L153.2,741.0 L155.3,738.5 L157.3,735.9 L159.4,733.2 L161.5,730.5 L163.5,727.6 L165.6,724.8 L167.7,721.9 L169.7,719.0 L171.8,716.1 L173.8,713.2 L175.9,710.4 L178.0,707.6 L180.0,704.8 L182.1,702.2 L184.2,699.6 L186.2,697.2 L188.3,694.8 L190.3,692.6 L192.4,690.4 L194.5,688.4 L196.5,686.5 L198.6,684.7 L200.7,683.1 L202.7,681.5 L204.8,680.1 L206.8,678.7" fill="none" stroke="#0a0a0a" stroke-width="3.4" stroke-linecap="round" stroke-linejoin="round"/>
<rect x="80.1" y="771.2" width="6" height="6" fill="#0a0a0a"/>
<path d="M104.6,755.4 L104.6,770.0 M101.6,755.4 L107.6,755.4 M101.6,770.0 L107.6,770.0" stroke="#0a0a0a" stroke-width="1.6" fill="none"/>
<rect x="101.6" y="760.0" width="6" height="6" fill="#0a0a0a"/>
<path d="M120.8,762.5 L120.8,772.0 M117.8,762.5 L123.8,762.5 M117.8,772.0 L123.8,772.0" stroke="#0a0a0a" stroke-width="1.6" fill="none"/>
<rect x="117.8" y="764.5" width="6" height="6" fill="#0a0a0a"/>
<path d="M136.9,758.3 L136.9,765.6 M133.9,758.3 L139.9,758.3 M133.9,765.6 L139.9,765.6" stroke="#0a0a0a" stroke-width="1.6" fill="none"/>
<rect x="133.9" y="759.3" width="6" height="6" fill="#0a0a0a"/>
<path d="M153.0,721.0 L153.0,748.8 M149.0,721.0 L157.0,721.0 M149.0,748.8 L157.0,748.8" stroke="#0a0a0a" stroke-width="1.6" fill="none"/>
<rect x="150.0" y="732.0" width="6" height="6" fill="#0a0a0a"/>
<path d="M174.6,708.6 L174.6,715.4 M171.4,708.6 L177.8,708.6 M171.4,715.4 L177.8,715.4" stroke="#0a0a0a" stroke-width="1.6" fill="none"/>
<rect x="171.6" y="709.0" width="6" height="6" fill="#0a0a0a"/>
<path d="M190.7,674.4 L190.7,708.0 M186.5,674.4 L194.9,674.4 M186.5,708.0 L194.9,708.0" stroke="#0a0a0a" stroke-width="1.6" fill="none"/>
<rect x="187.7" y="688.0" width="6" height="6" fill="#0a0a0a"/>
<path d="M206.8,656.0 L206.8,702.3 M202.5,656.0 L211.1,656.0 M202.5,702.3 L211.1,702.3" stroke="#0a0a0a" stroke-width="1.6" fill="none"/>
<rect x="203.8" y="676.0" width="6" height="6" fill="#0a0a0a"/>
<line x1="300.3" y1="630.8" x2="300.3" y2="776.1" stroke="#0a0a0a" stroke-width="2.5"/>
<line x1="299" y1="774.8" x2="515" y2="774.8" stroke="#0a0a0a" stroke-width="2.6"/>
<line x1="295.6" y1="774.8" x2="300.2" y2="774.8" stroke="#0a0a0a" stroke-width="1.9"/>
<text x="294.3" y="778.5" text-anchor="end" font-family="Liberation Sans" font-weight="bold" font-size="10.4" fill="#0a0a0a" stroke="#0a0a0a" stroke-width="0.45">1.0</text>
<line x1="295.6" y1="746.4" x2="300.2" y2="746.4" stroke="#0a0a0a" stroke-width="1.9"/>
<text x="294.3" y="750.1" text-anchor="end" font-family="Liberation Sans" font-weight="bold" font-size="10.4" fill="#0a0a0a" stroke="#0a0a0a" stroke-width="0.45">1.5</text>
<line x1="295.6" y1="718.0" x2="300.2" y2="718.0" stroke="#0a0a0a" stroke-width="1.9"/>
<text x="294.3" y="721.7" text-anchor="end" font-family="Liberation Sans" font-weight="bold" font-size="10.4" fill="#0a0a0a" stroke="#0a0a0a" stroke-width="0.45">2.0</text>
<line x1="295.6" y1="689.6" x2="300.2" y2="689.6" stroke="#0a0a0a" stroke-width="1.9"/>
<text x="294.3" y="693.3" text-anchor="end" font-family="Liberation Sans" font-weight="bold" font-size="10.4" fill="#0a0a0a" stroke="#0a0a0a" stroke-width="0.45">2.5</text>
<line x1="295.6" y1="661.2" x2="300.2" y2="661.2" stroke="#0a0a0a" stroke-width="1.9"/>
<text x="294.3" y="664.9" text-anchor="end" font-family="Liberation Sans" font-weight="bold" font-size="10.4" fill="#0a0a0a" stroke="#0a0a0a" stroke-width="0.45">3.0</text>
<line x1="295.6" y1="632.8" x2="300.2" y2="632.8" stroke="#0a0a0a" stroke-width="1.9"/>
<text x="294.3" y="636.5" text-anchor="end" font-family="Liberation Sans" font-weight="bold" font-size="10.4" fill="#0a0a0a" stroke="#0a0a0a" stroke-width="0.45">3.5</text>
<line x1="300.2" y1="774.8" x2="300.2" y2="780" stroke="#0a0a0a" stroke-width="1.9"/>
<text x="300.4" y="791.5" text-anchor="middle" font-family="Liberation Sans" font-weight="bold" font-size="10" fill="#0a0a0a" stroke="#0a0a0a" stroke-width="0.45">-7</text>
<line x1="321.7" y1="774.8" x2="321.7" y2="778" stroke="#0a0a0a" stroke-width="1.3"/>
<line x1="334.2" y1="774.8" x2="334.2" y2="778" stroke="#0a0a0a" stroke-width="1.3"/>
<line x1="343.1" y1="774.8" x2="343.1" y2="778" stroke="#0a0a0a" stroke-width="1.3"/>
<line x1="350.0" y1="774.8" x2="350.0" y2="778" stroke="#0a0a0a" stroke-width="1.3"/>
<line x1="355.7" y1="774.8" x2="355.7" y2="778" stroke="#0a0a0a" stroke-width="1.3"/>
<line x1="360.5" y1="774.8" x2="360.5" y2="778" stroke="#0a0a0a" stroke-width="1.3"/>
<line x1="364.6" y1="774.8" x2="364.6" y2="778" stroke="#0a0a0a" stroke-width="1.3"/>
<line x1="368.2" y1="774.8" x2="368.2" y2="778" stroke="#0a0a0a" stroke-width="1.3"/>
<line x1="371.5" y1="774.8" x2="371.5" y2="780" stroke="#0a0a0a" stroke-width="1.9"/>
<text x="371.7" y="791.5" text-anchor="middle" font-family="Liberation Sans" font-weight="bold" font-size="10" fill="#0a0a0a" stroke="#0a0a0a" stroke-width="0.45">-6</text>
<line x1="393.0" y1="774.8" x2="393.0" y2="778" stroke="#0a0a0a" stroke-width="1.3"/>
<line x1="405.5" y1="774.8" x2="405.5" y2="778" stroke="#0a0a0a" stroke-width="1.3"/>
<line x1="414.4" y1="774.8" x2="414.4" y2="778" stroke="#0a0a0a" stroke-width="1.3"/>
<line x1="421.3" y1="774.8" x2="421.3" y2="778" stroke="#0a0a0a" stroke-width="1.3"/>
<line x1="427.0" y1="774.8" x2="427.0" y2="778" stroke="#0a0a0a" stroke-width="1.3"/>
<line x1="431.8" y1="774.8" x2="431.8" y2="778" stroke="#0a0a0a" stroke-width="1.3"/>
<line x1="435.9" y1="774.8" x2="435.9" y2="778" stroke="#0a0a0a" stroke-width="1.3"/>
<line x1="439.5" y1="774.8" x2="439.5" y2="778" stroke="#0a0a0a" stroke-width="1.3"/>
<line x1="442.8" y1="774.8" x2="442.8" y2="780" stroke="#0a0a0a" stroke-width="1.9"/>
<text x="443.0" y="791.5" text-anchor="middle" font-family="Liberation Sans" font-weight="bold" font-size="10" fill="#0a0a0a" stroke="#0a0a0a" stroke-width="0.45">-5</text>
<line x1="464.3" y1="774.8" x2="464.3" y2="778" stroke="#0a0a0a" stroke-width="1.3"/>
<line x1="476.8" y1="774.8" x2="476.8" y2="778" stroke="#0a0a0a" stroke-width="1.3"/>
<line x1="485.7" y1="774.8" x2="485.7" y2="778" stroke="#0a0a0a" stroke-width="1.3"/>
<line x1="492.6" y1="774.8" x2="492.6" y2="778" stroke="#0a0a0a" stroke-width="1.3"/>
<line x1="498.3" y1="774.8" x2="498.3" y2="778" stroke="#0a0a0a" stroke-width="1.3"/>
<line x1="503.1" y1="774.8" x2="503.1" y2="778" stroke="#0a0a0a" stroke-width="1.3"/>
<line x1="507.2" y1="774.8" x2="507.2" y2="778" stroke="#0a0a0a" stroke-width="1.3"/>
<line x1="510.8" y1="774.8" x2="510.8" y2="778" stroke="#0a0a0a" stroke-width="1.3"/>
<line x1="514.1" y1="774.8" x2="514.1" y2="780" stroke="#0a0a0a" stroke-width="1.9"/>
<text x="514.3" y="791.5" text-anchor="middle" font-family="Liberation Sans" font-weight="bold" font-size="10" fill="#0a0a0a" stroke="#0a0a0a" stroke-width="0.45">-4</text>
<text x="367.7" y="806.5" font-family="Liberation Sans" font-weight="bold" stroke="#0a0a0a" stroke-width="0.35" font-size="11.5" textLength="79.3" lengthAdjust="spacingAndGlyphs" fill="#111">log[SB216763]</text>
<text transform="translate(274.9,771.2) rotate(-90)" font-family="Liberation Serif" font-weight="bold" stroke="#0a0a0a" stroke-width="0.3" font-size="11.4" textLength="20.0" lengthAdjust="spacingAndGlyphs" fill="#0a0a0a">-fold</text>
<text transform="translate(274.9,747.6) rotate(-90)" font-family="Liberation Serif" font-weight="bold" stroke="#0a0a0a" stroke-width="0.3" font-size="11.4" textLength="42.4" lengthAdjust="spacingAndGlyphs" fill="#0a0a0a">increase</text>
<text transform="translate(274.9,701.6) rotate(-90)" font-family="Liberation Serif" font-weight="bold" stroke="#0a0a0a" stroke-width="0.3" font-size="11.4" textLength="9.6" lengthAdjust="spacingAndGlyphs" fill="#0a0a0a">in</text>
<text transform="translate(274.9,688.7) rotate(-90)" font-family="Liberation Serif" font-weight="bold" stroke="#0a0a0a" stroke-width="0.3" font-size="11.4" textLength="64.5" lengthAdjust="spacingAndGlyphs" fill="#0a0a0a">aggregation</text>
<path d="M300.2,774.7 L302.6,774.7 L305.0,774.7 L307.3,774.7 L309.7,774.6 L312.1,774.6 L314.5,774.6 L316.8,774.5 L319.2,774.5 L321.6,774.5 L324.0,774.4 L326.3,774.4 L328.7,774.3 L331.1,774.2 L333.5,774.1 L335.8,774.0 L338.2,773.9 L340.6,773.8 L343.0,773.7 L345.4,773.5 L347.7,773.3 L350.1,773.1 L352.5,772.8 L354.9,772.6 L357.2,772.2 L359.6,771.9 L362.0,771.5 L364.4,771.0 L366.7,770.5 L369.1,769.8 L371.5,769.2 L373.9,768.4 L376.3,767.5 L378.6,766.5 L381.0,765.4 L383.4,764.1 L385.8,762.7 L388.1,761.2 L390.5,759.5 L392.9,757.6 L395.3,755.5 L397.6,753.2 L400.0,750.7 L402.4,748.0 L404.8,745.1 L407.1,742.0 L409.5,738.7 L411.9,735.3 L414.3,731.7 L416.7,728.0 L419.0,724.2 L421.4,720.3 L423.8,716.4 L426.2,712.6 L428.5,708.8 L430.9,705.0 L433.3,701.4 L435.7,697.9 L438.0,694.6 L440.4,691.5 L442.8,688.6" fill="none" stroke="#0a0a0a" stroke-width="3.4" stroke-linecap="round" stroke-linejoin="round"/>
<rect x="297.2" y="771.8" width="6" height="6" fill="#0a0a0a"/>
<path d="M371.5,757.0 L371.5,777.0 M367.9,757.0 L375.1,757.0 M367.9,777.0 L375.1,777.0" stroke="#0a0a0a" stroke-width="1.6" fill="none"/>
<rect x="368.5" y="764.7" width="6" height="6" fill="#0a0a0a"/>
<path d="M392.9,753.8 L392.9,764.0 M389.5,753.8 L396.3,753.8 M389.5,764.0 L396.3,764.0" stroke="#0a0a0a" stroke-width="1.6" fill="none"/>
<rect x="389.9" y="756.0" width="6" height="6" fill="#0a0a0a"/>
<path d="M421.4,704.6 L421.4,736.3 M417.7,704.6 L425.1,704.6 M417.7,736.3 L425.1,736.3" stroke="#0a0a0a" stroke-width="1.6" fill="none"/>
<rect x="418.4" y="717.6" width="6" height="6" fill="#0a0a0a"/>
<path d="M442.8,665.5 L442.8,713.2 M439.0,665.5 L446.6,665.5 M439.0,713.2 L446.6,713.2" stroke="#0a0a0a" stroke-width="1.6" fill="none"/>
<rect x="439.8" y="685.6" width="6" height="6" fill="#0a0a0a"/>
</g>
<text x="0" y="19.2" font-family="Liberation Sans" font-weight="bold" font-size="24.8" fill="#111">A</text>
<text x="-1.6" y="283.8" font-family="Liberation Sans" font-weight="bold" font-size="24" fill="#111">B</text>
<text x="0.3" y="615.8" font-family="Liberation Sans" font-weight="bold" font-size="23.8" fill="#111">C</text>
</svg>
</body></html>
